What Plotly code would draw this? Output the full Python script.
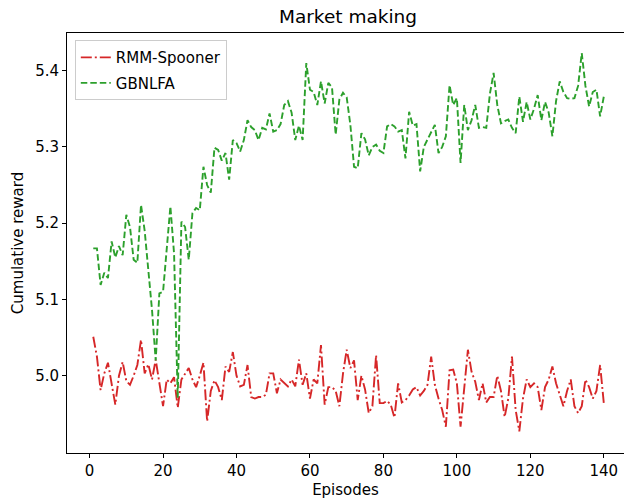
import plotly.graph_objects as go

episodes = list(range(1, 141))

rmm_spooner = [
    5.051, 5.025, 4.981, 5.003, 5.017, 4.990, 4.962, 5.000, 5.018, 4.993,
    4.988, 5.000, 5.014, 5.047, 5.003, 5.015, 4.995, 5.021, 4.990, 4.960,
    4.995, 4.990, 4.998, 4.958, 4.995, 5.003, 5.010, 4.995, 4.985, 5.000,
    5.017, 4.940, 4.980, 4.994, 4.985, 4.968, 5.012, 5.005, 5.031, 5.000,
    4.986, 4.988, 5.014, 4.972, 4.970, 4.972, 4.972, 4.975, 5.003, 5.003,
    4.977, 4.995, 4.990, 4.986, 4.995, 4.986, 5.021, 4.988, 5.003, 4.970,
    4.995, 4.990, 5.040, 4.962, 4.985, 4.985, 4.980, 4.960, 5.003, 5.034,
    5.010, 5.020, 4.968, 5.000, 4.982, 4.951, 4.960, 5.027, 4.964, 4.964,
    4.967, 4.962, 4.945, 4.990, 4.965, 4.968, 4.974, 4.982, 4.985, 4.974,
    4.980, 4.988, 5.025, 4.988, 4.970, 4.955, 4.933, 5.007, 5.008, 4.990,
    4.933, 4.980, 5.034, 5.005, 4.992, 4.968, 4.990, 4.965, 4.972, 4.972,
    5.000, 4.980, 4.946, 4.970, 5.025, 4.955, 4.927, 4.970, 4.995, 4.985,
    4.990, 4.985, 4.955, 4.985, 4.995, 5.012, 4.990, 4.975, 4.960, 4.980,
    4.995, 4.960, 4.951, 4.960, 4.995, 4.985, 4.970, 4.980, 5.014, 4.964,
]

gbnlfa = [
    5.167, 5.167, 5.119, 5.135, 5.128, 5.176, 5.155, 5.170, 5.158, 5.211,
    5.195, 5.152, 5.148, 5.224, 5.190, 5.139, 5.086, 5.020, 5.108, 5.110,
    5.165, 5.222, 5.160, 4.971, 5.202, 5.195, 5.152, 5.213, 5.220, 5.217,
    5.274, 5.250, 5.240, 5.299, 5.296, 5.282, 5.292, 5.257, 5.309, 5.305,
    5.294, 5.309, 5.335, 5.326, 5.322, 5.309, 5.325, 5.323, 5.344, 5.320,
    5.322, 5.330, 5.355, 5.360, 5.345, 5.309, 5.328, 5.309, 5.410, 5.375,
    5.372, 5.355, 5.386, 5.357, 5.384, 5.378, 5.316, 5.362, 5.371, 5.365,
    5.329, 5.274, 5.272, 5.318, 5.310, 5.289, 5.300, 5.303, 5.295, 5.292,
    5.327, 5.330, 5.327, 5.320, 5.322, 5.285, 5.346, 5.328, 5.330, 5.268,
    5.300, 5.309, 5.318, 5.329, 5.292, 5.300, 5.314, 5.381, 5.355, 5.364,
    5.279, 5.355, 5.322, 5.335, 5.355, 5.325, 5.326, 5.325, 5.370, 5.397,
    5.355, 5.331, 5.334, 5.336, 5.325, 5.318, 5.366, 5.333, 5.359, 5.336,
    5.350, 5.368, 5.335, 5.359, 5.345, 5.314, 5.360, 5.386, 5.372, 5.364,
    5.363, 5.364, 5.380, 5.423, 5.380, 5.353, 5.372, 5.375, 5.340, 5.366,
]

x_ticks = [0, 20, 40, 60, 80, 100, 120, 140]
y_ticks = [5.0, 5.1, 5.2, 5.3, 5.4]

FONT = "DejaVu Sans"

fig = go.Figure()
fig.add_trace(go.Scatter(
    x=episodes, y=rmm_spooner, mode="lines", name="RMM-Spooner", legendgroup="a",
    line=dict(color="#d62728", width=1.9, dash="11px,3px,2px,3px"),
))
fig.add_trace(go.Scatter(
    x=episodes, y=gbnlfa, mode="lines", name="GBNLFA", legendgroup="b",
    line=dict(color="#2ca02c", width=1.9, dash="6.5px,3px"),
))

fig.update_layout(
    width=624, height=500,
    margin=dict(l=67, r=0, t=33, b=47, autoexpand=False),
    paper_bgcolor="white", plot_bgcolor="white",
    font=dict(family=FONT, size=15, color="black"),
    title=dict(text="Market making", x=348 / 624, xanchor="center",
               y=1 - 17 / 500, yanchor="middle", yref="container",
               font=dict(family=FONT, size=18.5, color="black")),
    showlegend=True,
    legend=dict(x=0.014, y=0.983, xanchor="left", yanchor="top",
                bgcolor="rgba(255,255,255,0.8)", bordercolor="#cccccc",
                borderwidth=1, font=dict(family=FONT, size=15),
                traceorder="grouped", tracegroupgap=3, itemwidth=30),
    hovermode=False,
)

fig.update_xaxes(
    range=[-6.15, 145.5], tickvals=x_ticks, ticks="outside", ticklen=4,
    tickcolor="black", showline=True, linecolor="black", linewidth=1,
    mirror=True, showgrid=False, zeroline=False, automargin=False,
    title=dict(text="Episodes", font=dict(family=FONT, size=15), standoff=5),
)
fig.update_yaxes(
    range=[4.8986, 5.4494], tickvals=y_ticks, ticktext=["5.0", "5.1", "5.2", "5.3", "5.4"],
    ticks="outside", ticklen=4,
    tickcolor="black", showline=True, linecolor="black", linewidth=1,
    mirror=False, showgrid=False, zeroline=False, automargin=False,
    title=dict(text="Cumulative reward", font=dict(family=FONT, size=15), standoff=7),
)

fig.write_html(
    "out.html",
    config={"displayModeBar": False},
    post_script="document.body.style.margin='0';document.body.style.overflow='hidden';",
)
